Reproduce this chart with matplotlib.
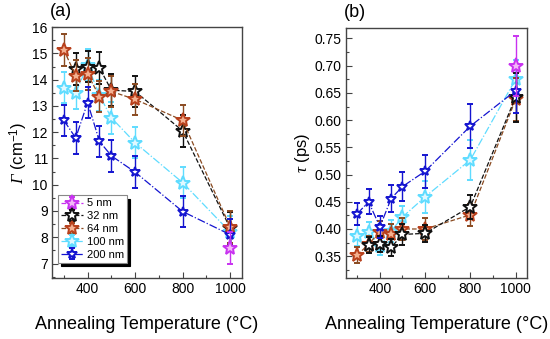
import numpy as np
import matplotlib
matplotlib.use("Agg")
import matplotlib.pyplot as plt
from matplotlib.ticker import MultipleLocator

plt.rcParams.update({
    "font.family": ["Liberation Sans", "DejaVu Sans"],
    "mathtext.fontset": "custom",
    "mathtext.it": "Liberation Serif:italic",
    "mathtext.rm": "Liberation Serif:italic",   # Greek capitals go through rm
    "mathtext.sf": "Liberation Sans",
    "axes.edgecolor": "#444444",
    "axes.linewidth": 1.0,
    "xtick.direction": "in",
    "ytick.direction": "in",
})

# ── Data ──────────────────────────────────────────────────────
temps = [300, 350, 400, 450, 500, 600, 800, 1000]
temps_32 = [350, 400, 450, 500, 600, 800, 1000]
temps_5 = [1000]

# linewidth Γ (cm^-1)
gam_5 = [7.6]
gam_32 = [14.4, 14.5, 14.45, 13.6, 13.55, 12.05, 8.35]
gam_64 = [15.13, 14.15, 14.22, 13.35, 13.55, 13.25, 12.45, 8.4]
gam_100 = [13.7, 13.5, 14.55, 13.4, 12.55, 11.6, 10.08, 8.2]
gam_200 = [12.45, 11.78, 13.13, 11.65, 11.1, 10.48, 8.98, 8.1]
gam_err = 0.6

# lifetime τ (ps)
tau_5 = [0.70]
tau_32 = [0.37, 0.372, 0.366, 0.39, 0.392, 0.441, 0.642]
tau_64 = [0.352, 0.372, 0.395, 0.39, 0.40, 0.40, 0.426, 0.638]
tau_100 = [0.388, 0.394, 0.368, 0.396, 0.422, 0.459, 0.527, 0.675]
tau_200 = [0.428, 0.450, 0.404, 0.456, 0.478, 0.506, 0.589, 0.654]
tau_err_5 = [0.055]
tau_err_32 = [0.015, 0.015, 0.015, 0.02, 0.015, 0.022, 0.045]
tau_err_64 = [0.015, 0.015, 0.02, 0.02, 0.02, 0.02, 0.02, 0.04]
tau_err_100 = [0.02, 0.018, 0.015, 0.02, 0.02, 0.03, 0.037, 0.035]
tau_err_200 = [0.02, 0.023, 0.02, 0.025, 0.026, 0.03, 0.04, 0.04]

labels = ["5 nm", "32 nm", "64 nm", "100 nm", "200 nm"]

# ── Style per series ──────────────────────────────────────────
styles = {
    "5 nm":   dict(ec="#c832f0", fc="#f4b8f8", ls="--", ms=11, lc="#c832f0"),
    "32 nm":  dict(ec="#111111", fc="#ffffff", ls="--", ms=10, lc="#111111"),
    "64 nm":  dict(ec="#b8401c", fc="#f4b090", ls="--", ms=10, lc="#8a4a20"),
    "100 nm": dict(ec="#5fdcff", fc="#e0f8ff", ls="-.", ms=10, lc="#5fdcff"),
    "200 nm": dict(ec="#1414d0", fc="#ffffff", ls="-.", ms=7, lc="#1414d0"),
}


def draw(ax, x, y, err, name, z):
    s = styles[name]
    ax.errorbar(x, y, yerr=err, fmt="*", ls=s["ls"], lw=0.9, color=s["lc"],
                mec=s["ec"], mfc=s["fc"], ms=s["ms"], mew=1.4,
                ecolor=s["lc"], elinewidth=1.0, capsize=2.5, capthick=1.0,
                label=name, zorder=z)


fig = plt.figure(figsize=(5.5, 3.39), dpi=100)
ax1 = fig.add_axes([0.0945, 0.18, 0.3455, 0.74])
ax2 = fig.add_axes([0.629, 0.18, 0.329, 0.737])

# ── Panel (a) ────────────────────────────────────────────────
draw(ax1, temps_32, gam_32, gam_err, "32 nm", 4)
draw(ax1, temps, gam_64, gam_err, "64 nm", 5)
draw(ax1, temps, gam_100, gam_err, "100 nm", 3)
draw(ax1, temps, gam_200, gam_err, "200 nm", 6)
draw(ax1, temps_5, gam_5, gam_err, "5 nm", 7)

ax1.set_xlim(250, 1050)
ax1.set_ylim(6.45, 16)
ax1.xaxis.set_major_locator(MultipleLocator(200))
ax1.xaxis.set_minor_locator(MultipleLocator(100))
ax1.yaxis.set_major_locator(MultipleLocator(1))
ax1.yaxis.set_minor_locator(MultipleLocator(0.5))
ax1.set_ylabel(r"$\Gamma$ (cm$^{\mathsf{-1}}$)", fontsize=12, labelpad=2)
ax1.set_xlabel("Annealing Temperature (°C)", fontsize=13, labelpad=14)
ax1.text(-0.01, 1.03, "(a)", transform=ax1.transAxes, fontsize=13,
         ha="left", va="bottom")

handles, labs = ax1.get_legend_handles_labels()
order = [labs.index(l) for l in labels]
leg = ax1.legend([handles[i] for i in order], [labs[i] for i in order],
                 loc="lower left", bbox_to_anchor=(0.03, 0.06),
                 fontsize=8, frameon=True, fancybox=False,
                 shadow={"color": "black", "alpha": 1.0, "ox": 2.5, "oy": -2.5},
                 handlelength=2.0, handletextpad=0.3, borderpad=0.3,
                 labelspacing=0.25, borderaxespad=0.0, framealpha=1.0)
leg.get_frame().set_edgecolor("#888888")
leg.get_frame().set_linewidth(0.8)

# ── Panel (b) ────────────────────────────────────────────────
draw(ax2, temps_32, tau_32, tau_err_32, "32 nm", 5)
draw(ax2, temps, tau_64, tau_err_64, "64 nm", 4)
draw(ax2, temps, tau_100, tau_err_100, "100 nm", 3)
draw(ax2, temps, tau_200, tau_err_200, "200 nm", 6)
draw(ax2, temps_5, tau_5, tau_err_5, "5 nm", 7)

ax2.set_xlim(250, 1050)
ax2.set_ylim(0.31, 0.769)
ax2.xaxis.set_major_locator(MultipleLocator(200))
ax2.xaxis.set_minor_locator(MultipleLocator(100))
ax2.yaxis.set_major_locator(MultipleLocator(0.05))
ax2.yaxis.set_minor_locator(MultipleLocator(0.025))
ax2.yaxis.set_major_formatter(plt.FormatStrFormatter("%.2f"))
ax2.set_ylabel(r"$\tau$ (ps)", fontsize=12, labelpad=2)
ax2.set_xlabel("Annealing Temperature (°C)", fontsize=13, labelpad=14)
ax2.text(-0.01, 1.03, "(b)", transform=ax2.transAxes, fontsize=13,
         ha="left", va="bottom")

for ax in (ax1, ax2):
    ax.tick_params(which="major", labelsize=10, length=4, width=0.8,
                   color="#444444", pad=3)
    ax.tick_params(which="minor", length=2, width=0.8, color="#444444")

plt.savefig("out.png", dpi=100)
plt.close()
